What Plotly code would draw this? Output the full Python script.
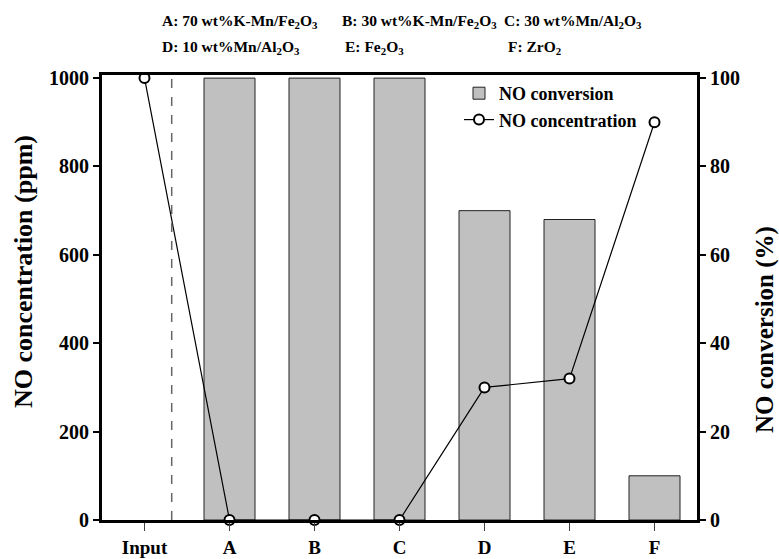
import plotly.graph_objects as go

categories = ["Input", "A", "B", "C", "D", "E", "F"]
bar_categories = ["A", "B", "C", "D", "E", "F"]
no_conversion = [100, 100, 100, 70, 68, 10]
no_concentration = [1000, 0, 0, 0, 300, 320, 900]
left_ticks = [0, 200, 400, 600, 800, 1000]
right_ticks = [0, 20, 40, 60, 80, 100]
catalyst_labels = [
    "A: 70 wt%K-Mn/Fe<sub>2</sub>O<sub>3</sub>",
    "B: 30 wt%K-Mn/Fe<sub>2</sub>O<sub>3</sub>",
    "C: 30 wt%Mn/Al<sub>2</sub>O<sub>3</sub>",
    "D: 10 wt%Mn/Al<sub>2</sub>O<sub>3</sub>",
    "E: Fe<sub>2</sub>O<sub>3</sub>",
    "F: ZrO<sub>2</sub>",
]

FONT = "Liberation Serif"
L, R, T, B = 102, 82, 75, 39
W, H = 779, 559
PW, PH = W - L - R, H - T - B


def px_x(px):
    return (px - L) / PW


def px_y(py):
    return 1 - (py - T) / PH


fig = go.Figure()
fig.add_trace(go.Bar(
    x=bar_categories, y=no_conversion, name="<b>NO conversion</b>",
    marker=dict(color="#c0c0c0", line=dict(color="#222", width=1)),
    width=0.6, yaxis="y",
))
fig.add_trace(go.Scatter(
    x=categories, y=no_concentration, name="<b>NO concentration</b>",
    mode="lines+markers",
    line=dict(color="black", width=1.2),
    marker=dict(symbol="circle", size=10, color="white", line=dict(color="black", width=2)),
    yaxis="y2", cliponaxis=False,
))

fig.add_shape(type="line", xref="x", yref="paper", x0=0.32, x1=0.32, y0=0, y1=1,
              line=dict(color="#666", width=1.5, dash="dash"))

positions = [(160, 21), (340, 21), (502, 21), (160, 47), (343, 47), (506, 47)]
for text, (px, py) in zip(catalyst_labels, positions):
    fig.add_annotation(text="<b>" + text + "</b>", xref="paper", yref="paper",
                       x=px_x(px), y=px_y(py),
                       xanchor="left", yanchor="middle", showarrow=False,
                       font=dict(family=FONT, size=15.5, color="black"))

fig.add_annotation(text="<b>NO concentration (ppm)</b>", xref="paper", yref="paper",
                   x=px_x(23), y=px_y(272), textangle=-90, showarrow=False,
                   xanchor="center", yanchor="middle",
                   font=dict(family=FONT, size=26, color="black"))
fig.add_annotation(text="<b>NO conversion (%)</b>", xref="paper", yref="paper",
                   x=px_x(765), y=px_y(330), textangle=-90, showarrow=False,
                   xanchor="center", yanchor="middle",
                   font=dict(family=FONT, size=25, color="black"))

axis_common = dict(
    showgrid=False, zeroline=False, showline=True, linecolor="black", linewidth=3,
    ticks="outside", ticklen=6, tickwidth=2, tickcolor="black", automargin=False,
    tickfont=dict(family=FONT, size=20, color="black"),
)

fig.update_layout(
    width=W, height=H,
    margin=dict(l=L, r=R, t=T, b=B),
    plot_bgcolor="white", paper_bgcolor="white",
    font=dict(family=FONT, color="black"),
    xaxis=dict(
        categoryorder="array", categoryarray=categories, range=[-0.5, 6.5],
        showgrid=False, zeroline=False, showline=True, linecolor="black", linewidth=3,
        mirror=True, ticks="outside", ticklen=8, tickwidth=1, tickcolor="#444",
        automargin=False,
        tickfont=dict(family=FONT, size=19, color="black"),
        tickvals=categories, ticktext=["<b>%s</b>" % c for c in categories],
    ),
    yaxis=dict(
        side="right", range=[0, 100.7], tickvals=right_ticks,
        ticktext=["<b>%d</b>" % t for t in right_ticks],
        **axis_common,
    ),
    yaxis2=dict(
        side="left", overlaying="y", range=[0, 1007], tickvals=left_ticks,
        ticktext=["<b>%d</b>" % t for t in left_ticks],
        **axis_common,
    ),
    legend=dict(
        x=px_x(459), y=px_y(75), xanchor="left", yanchor="top",
        bgcolor="rgba(0,0,0,0)", borderwidth=0,
        font=dict(family=FONT, size=18, color="black"),
        traceorder="normal", tracegroupgap=0,
    ),
    showlegend=True,
)

fig.write_html("out.html", config={"displayModeBar": False},
               post_script="document.body.style.margin='0';document.body.style.overflow='hidden';")
